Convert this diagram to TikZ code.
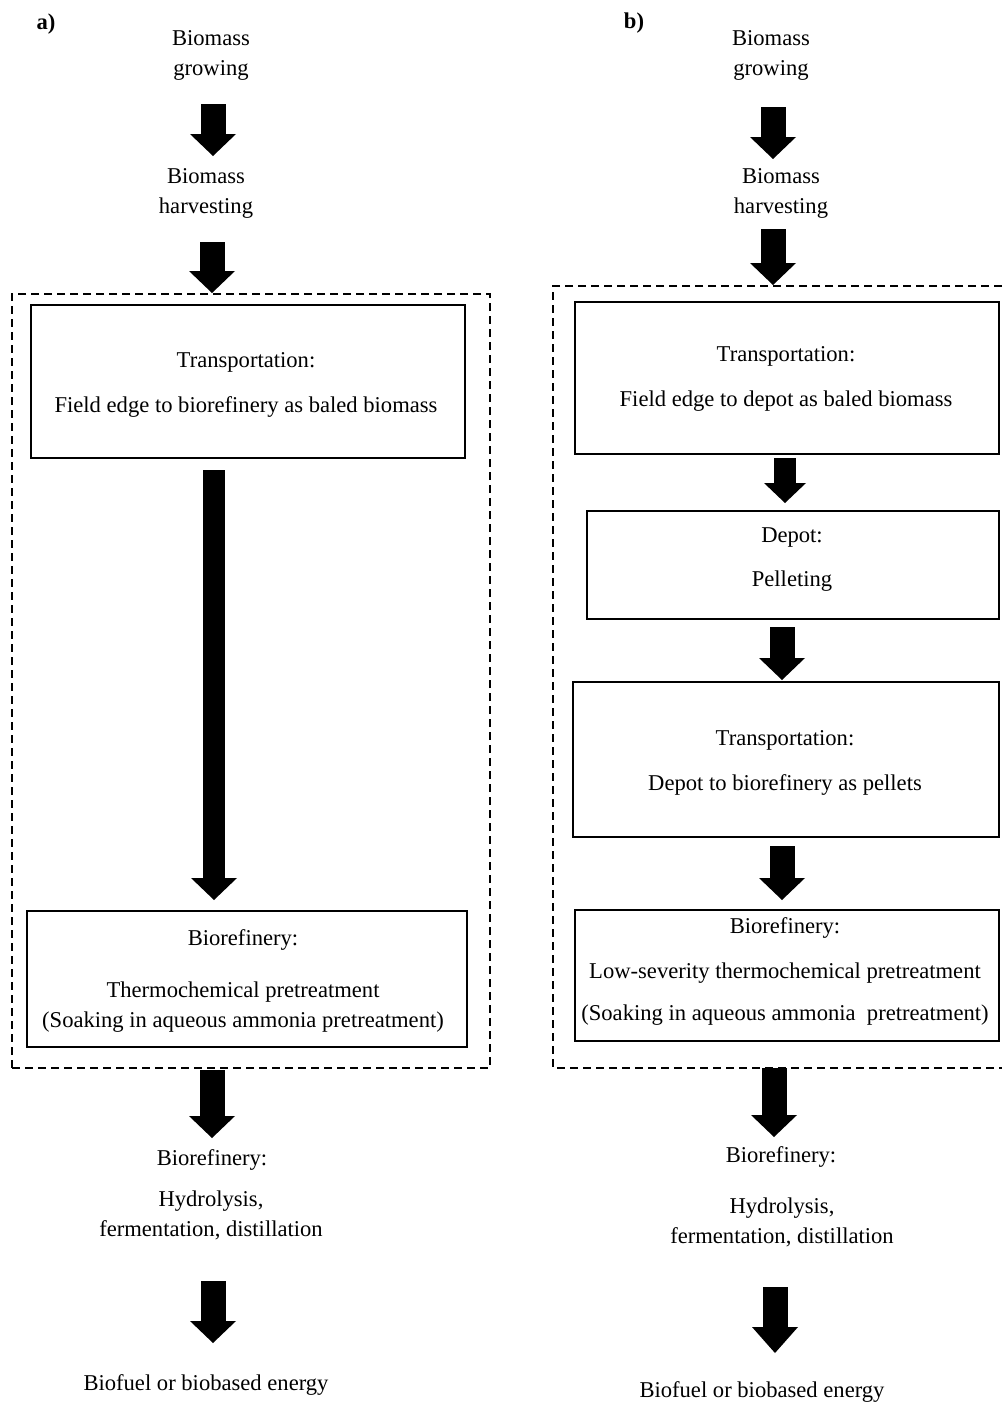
\documentclass[tikz,border=0pt]{standalone}
\usepackage{fontspec}
\setmainfont{Liberation Serif}
\usetikzlibrary{arrows.meta,fit}
\begin{document}
\begin{tikzpicture}[x=0.5pt,y=-0.5pt,
  % multi-line labels are placed by the baseline of their last line
  txt/.style={inner sep=0pt, anchor=base, align=center, font=\fontsize{11.3}{15}\selectfont},
  panel/.style={inner sep=0pt, anchor=base, font=\fontsize{11.3}{15}\selectfont\bfseries},
  procbox/.style={draw=black, line width=0.7pt, inner sep=0pt},
  stagebox/.style={draw=black, line width=0.6pt, dash pattern=on 4pt off 2.5pt},
  bigarrow/.style={line width=12.5pt, -{Triangle[width=23pt,length=11pt,line width=0pt]}},
]
\useasboundingbox (0,0) rectangle (1002,1403);

% ---------- panel a: direct delivery of baled biomass ----------
\node[panel] (la) at (46,29) {a)};
\node[txt] (gA) at (211,75) {Biomass\\growing};
\node[txt] (hA) at (206,213) {Biomass\\harvesting};

\node[stagebox, fit={(12,294) (490,1068)}, inner sep=0pt] (stageA) {};
\node[procbox, fit={(31,305) (465,458)}] (tA) {};
\node[txt] (tAt) at (246,412) {Transportation:\\[7.5pt]Field edge to biorefinery as baled biomass};
\node[procbox, fit={(27,911) (467,1047)}] (rA) {};
\node[txt] (rAt) at (243,1027) {Biorefinery:\\[11pt]Thermochemical pretreatment\\(Soaking in aqueous ammonia pretreatment)};

\node[txt] (pA) at (212,1165) {Biorefinery:};
\node[txt] (dA) at (211,1236) {Hydrolysis,\\fermentation, distillation};
\node[txt] (eA) at (206,1390) {Biofuel or biobased energy};

\coordinate (a1s) at (213,104);  \coordinate (a1e) at (213,156);
\coordinate (a2s) at (212,242);  \coordinate (a2e) at (212,293);
\coordinate (a3s) at (214,470);  \coordinate (a3e) at (214,900);
\coordinate (a4s) at (212,1070); \coordinate (a4e) at (212,1138);
\coordinate (a5s) at (213,1281); \coordinate (a5e) at (213,1343);
\draw[bigarrow] (a1s) -- (a1e);
\draw[bigarrow] (a2s) -- (a2e);
\draw[bigarrow, line width=11pt] (a3s) -- (a3e);
\draw[bigarrow] (a4s) -- (a4e);
\draw[bigarrow] (a5s) -- (a5e);

% ---------- panel b: delivery through a pelleting depot ----------
\node[panel] (lb) at (634,28) {b)};
\node[txt] (gB) at (771,75) {Biomass\\growing};
\node[txt] (hB) at (781,213) {Biomass\\harvesting};

\coordinate (sBne) at (1002,286); \coordinate (sBnw) at (553,286);
\coordinate (sBsw) at (553,1068); \coordinate (sBse) at (1002,1068);
\draw[stagebox] (sBne) -- (sBnw) -- (sBsw) -- (sBse);

\node[procbox, fit={(575,302) (999,454)}] (tB) {};
\node[txt] (tBt) at (786,406) {Transportation:\\[7.5pt]Field edge to depot as baled biomass};
\node[procbox, fit={(587,511) (999,619)}] (dB) {};
\node[txt] (dBt) at (792,586) {Depot:\\[7pt]Pelleting};
\node[procbox, fit={(573,682) (999,837)}] (tB2) {};
\node[txt] (tB2t) at (785,790) {Transportation:\\[7.5pt]Depot to biorefinery as pellets};
\node[procbox, fit={(575,910) (999,1041)}] (rB) {};
\node[txt] (rBt) at (785,1020) {Biorefinery:\\[7.5pt]Low-severity thermochemical pretreatment\\[6pt](Soaking in aqueous ammonia~ pretreatment)};

\node[txt] (pB) at (781,1162) {Biorefinery:};
\node[txt] (hyB) at (782,1243) {Hydrolysis,\\fermentation, distillation};
\node[txt] (eB) at (762,1397) {Biofuel or biobased energy};

\coordinate (b1s) at (773,107);  \coordinate (b1e) at (773,159);
\coordinate (b2s) at (773,229);  \coordinate (b2e) at (773,285);
\coordinate (b3s) at (785,458);  \coordinate (b3e) at (785,503);
\coordinate (b4s) at (782,627);  \coordinate (b4e) at (782,680);
\coordinate (b5s) at (782,846);  \coordinate (b5e) at (782,900);
\coordinate (b6s) at (774,1068); \coordinate (b6e) at (774,1137);
\coordinate (b7s) at (775,1287); \coordinate (b7e) at (775,1353);
\draw[bigarrow] (b1s) -- (b1e);
\draw[bigarrow] (b2s) -- (b2e);
\draw[bigarrow, line width=11pt, -{Triangle[width=21pt,length=10pt,line width=0pt]}] (b3s) -- (b3e);
\draw[bigarrow] (b4s) -- (b4e);
\draw[bigarrow] (b5s) -- (b5e);
\draw[bigarrow] (b6s) -- (b6e);
\draw[bigarrow, -{Triangle[width=23pt,length=13pt,line width=0pt]}] (b7s) -- (b7e);
\end{tikzpicture}
\end{document}
